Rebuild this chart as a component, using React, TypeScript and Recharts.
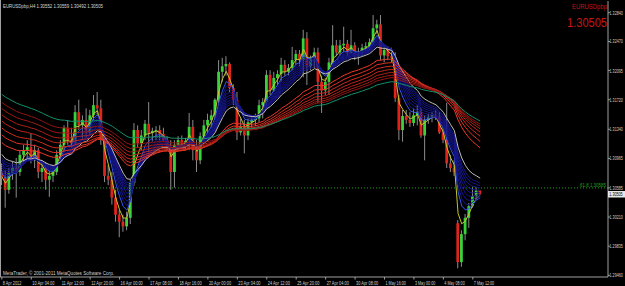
import React from "react";
import { ComposedChart, Bar, Line, XAxis, YAxis, ReferenceLine } from "recharts";

// EURUSD H4, 8 Apr 2012 .. 7 May 2012
const dateLabels = [
  "8 Apr 2012", "10 Apr 04:00", "11 Apr 12:00", "12 Apr 20:00", "16 Apr 00:00",
  "17 Apr 08:00", "18 Apr 16:00", "20 Apr 00:00", "23 Apr 04:00", "24 Apr 12:00",
  "25 Apr 20:00", "27 Apr 04:00", "30 Apr 08:00", "1 May 16:00", "3 May 00:00",
  "4 May 08:00", "7 May 12:00",
];

const opens = [
  1.3079, 1.3071, 1.3056, 1.3078, 1.3084, 1.3079, 1.3101, 1.3107, 1.3111, 1.3094,
  1.3107, 1.3079, 1.3084, 1.3069, 1.3074, 1.3079, 1.3101, 1.3114, 1.3136, 1.312,
  1.3116, 1.3156, 1.3139, 1.3146, 1.313, 1.3152, 1.3165, 1.3161, 1.312, 1.3074,
  1.3069, 1.3046, 1.3024, 1.3015, 1.3009, 1.302, 1.3065, 1.3133, 1.3116, 1.3126,
  1.3141, 1.3129, 1.3132, 1.3133, 1.3128, 1.312, 1.3111, 1.3079, 1.3114, 1.312,
  1.3115, 1.3119, 1.3137, 1.3107, 1.3094, 1.3125, 1.3139, 1.3146, 1.3152, 1.3172,
  1.3208, 1.3215, 1.3218, 1.3187, 1.3172, 1.313, 1.3138, 1.3126, 1.3143, 1.3146,
  1.3148, 1.3165, 1.3169, 1.3204, 1.3184, 1.32, 1.3205, 1.3217, 1.3208, 1.3213,
  1.3223, 1.3231, 1.3223, 1.3251, 1.3215, 1.3226, 1.3233, 1.3195, 1.3184, 1.3195,
  1.322, 1.3242, 1.3233, 1.3242, 1.3244, 1.3232, 1.3242, 1.3228, 1.3233, 1.3239,
  1.3241, 1.3246, 1.3264, 1.3269, 1.3229, 1.3236, 1.3228, 1.3226, 1.3174, 1.3133,
  1.3151, 1.3146, 1.3142, 1.3152, 1.3156, 1.3126, 1.3146, 1.315, 1.3152, 1.315,
  1.313, 1.312, 1.309, 1.3084, 1.3013, 1.2963, 1.2999, 1.302, 1.3035, 1.3048,
  1.30552,
];
const highs = [
  1.309, 1.3081, 1.3084, 1.3092, 1.3097, 1.3107, 1.3114, 1.312, 1.3129, 1.3114,
  1.311, 1.3094, 1.3092, 1.3081, 1.3088, 1.3107, 1.312, 1.3139, 1.3146, 1.3136,
  1.3165, 1.3172, 1.3152, 1.3161, 1.3159, 1.3178, 1.3182, 1.3172, 1.3126, 1.3088,
  1.3079, 1.3056, 1.303, 1.3024, 1.3028, 1.3069, 1.3142, 1.3139, 1.3133, 1.3146,
  1.3169, 1.3136, 1.3138, 1.3139, 1.3136, 1.3125, 1.312, 1.312, 1.3125, 1.3126,
  1.3123, 1.3155, 1.3146, 1.312, 1.313, 1.3146, 1.3154, 1.3159, 1.3174, 1.3223,
  1.3226, 1.3228, 1.322, 1.3192, 1.3182, 1.3148, 1.3146, 1.3148, 1.3152, 1.3154,
  1.3172, 1.3174, 1.321, 1.321, 1.3208, 1.321, 1.3226, 1.3223, 1.3218, 1.324,
  1.3236, 1.3236, 1.3262, 1.3259, 1.3229, 1.3239, 1.3239, 1.3203, 1.32, 1.3226,
  1.3268, 1.3249, 1.3249, 1.3266, 1.3249, 1.3262, 1.3246, 1.3239, 1.3244, 1.3246,
  1.3251, 1.3281, 1.3275, 1.3281, 1.3239, 1.3241, 1.3239, 1.3233, 1.3178, 1.3159,
  1.3159, 1.3156, 1.3161, 1.3165, 1.3161, 1.3152, 1.3154, 1.3156, 1.3159, 1.3156,
  1.3136, 1.3168, 1.3101, 1.3094, 1.3017, 1.3004, 1.3025, 1.3039, 1.306, 1.3059,
  1.30559,
];
const lows = [
  1.3062, 1.3033, 1.3051, 1.3069, 1.3046, 1.3074, 1.3092, 1.3097, 1.309, 1.3084,
  1.3071, 1.3066, 1.3056, 1.3047, 1.3066, 1.3075, 1.3094, 1.3105, 1.3114, 1.311,
  1.3112, 1.3133, 1.312, 1.3123, 1.3126, 1.3146, 1.3152, 1.3114, 1.3066, 1.3062,
  1.3037, 1.3015, 1.2995, 1.3002, 1.3004, 1.3012, 1.3061, 1.311, 1.3107, 1.312,
  1.3098, 1.3118, 1.312, 1.312, 1.3118, 1.3107, 1.3056, 1.3059, 1.3107, 1.311,
  1.3107, 1.3107, 1.3094, 1.3079, 1.3089, 1.312, 1.3128, 1.3136, 1.3146, 1.3168,
  1.3195, 1.3203, 1.3182, 1.3165, 1.312, 1.3126, 1.3103, 1.312, 1.3136, 1.3138,
  1.3143, 1.3148, 1.3161, 1.3178, 1.3182, 1.3191, 1.3195, 1.3203, 1.3203, 1.321,
  1.3217, 1.3215, 1.3201, 1.3191, 1.321, 1.3213, 1.3168, 1.3155, 1.3178, 1.3178,
  1.3218, 1.3228, 1.3229, 1.3233, 1.3228, 1.3231, 1.3223, 1.3217, 1.3228, 1.3233,
  1.3236, 1.3242, 1.3257, 1.3223, 1.322, 1.3223, 1.322, 1.3169, 1.312, 1.3118,
  1.3141, 1.3137, 1.3138, 1.3139, 1.3123, 1.3094, 1.3141, 1.3143, 1.3146, 1.3128,
  1.3116, 1.3084, 1.3079, 1.3074, 1.2955, 1.2957, 1.2991, 1.3007, 1.3033, 1.3043,
  1.30492,
];
const closes = [
  1.3071, 1.3056, 1.3078, 1.3084, 1.3079, 1.3101, 1.3107, 1.3111, 1.3094, 1.3107,
  1.3079, 1.3084, 1.3069, 1.3074, 1.3079, 1.3101, 1.3114, 1.3136, 1.312, 1.3116,
  1.3156, 1.3139, 1.3146, 1.313, 1.3152, 1.3165, 1.3161, 1.312, 1.3074, 1.3069,
  1.3046, 1.3024, 1.3015, 1.3009, 1.302, 1.3065, 1.3133, 1.3116, 1.3126, 1.3141,
  1.3129, 1.3132, 1.3133, 1.3128, 1.312, 1.3111, 1.3079, 1.3114, 1.312, 1.3115,
  1.3119, 1.3137, 1.3107, 1.3094, 1.3125, 1.3139, 1.3146, 1.3152, 1.3172, 1.3208,
  1.3215, 1.3218, 1.3187, 1.3172, 1.313, 1.3138, 1.3126, 1.3143, 1.3146, 1.3148,
  1.3165, 1.3169, 1.3204, 1.3184, 1.32, 1.3205, 1.3217, 1.3208, 1.3213, 1.3223,
  1.3231, 1.3223, 1.3251, 1.3215, 1.3226, 1.3233, 1.3195, 1.3184, 1.3195, 1.322,
  1.3242, 1.3233, 1.3242, 1.3244, 1.3232, 1.3242, 1.3228, 1.3233, 1.3239, 1.3241,
  1.3246, 1.3264, 1.3269, 1.3229, 1.3236, 1.3228, 1.3226, 1.3174, 1.3133, 1.3151,
  1.3146, 1.3142, 1.3152, 1.3156, 1.3126, 1.3146, 1.315, 1.3152, 1.315, 1.313,
  1.312, 1.309, 1.3084, 1.3079, 1.2963, 1.2999, 1.302, 1.3035, 1.3048, 1.3055,
  1.30505,
];

const priceTicks = [
  1.3284, 1.32655, 1.3247, 1.3228, 1.32095, 1.31905, 1.3172, 1.3153, 1.3134, 1.3115,
  1.30965, 1.30775, 1.30585, 1.304, 1.3021, 1.30025, 1.29835, 1.29645, 1.2946,
];

// moving average periods and their value just before the first bar
const maPeriods = [3, 5, 6, 7, 8, 9, 10, 11, 12, 13, 15, 30, 35, 40, 45, 50, 55, 60, 70];
const maStart = [
  1.3075, 1.3081, 1.3084, 1.3086, 1.3089, 1.3092, 1.3094, 1.3097, 1.3099, 1.3102,
  1.3106, 1.312, 1.313, 1.3139, 1.3148, 1.3156, 1.3164, 1.3172, 1.3182,
];

const fibLevel = 1.30585;
const lastPrice = 1.30505;

function ema(period: number, start: number) {
  const a = 2 / (period + 1);
  let v = start;
  return closes.map((c) => (v = a * c + (1 - a) * v));
}

const maValues = maPeriods.map((p, k) => ema(p, maStart[k]));

const rows = closes.map((c, i) => {
  const row: any = { i, o: opens[i], h: highs[i], l: lows[i], c };
  maPeriods.forEach((p, k) => (row["ma" + p] = maValues[k][i]));
  return row;
});

const redShades = ["#f0382a", "#e03224", "#d02c1f", "#c0261b", "#b02017", "#a01a13", "#901510"];

function maColor(p: number) {
  if (p === 3) return "#c4c430";
  if (p === 5) return "#3658f0";
  if (p < 15) return "#16168a";
  if (p === 15) return "#bdbdbd";
  if (p < 70) return redShades[(p - 30) / 5] || "#b02017";
  return "#14906a";
}

function Candle(props: any) {
  const { x, y, width, height, payload } = props;
  const { o, h, l, c } = payload;
  const cx = x + width / 2;
  const k = h > l ? height / (h - l) : 0;
  const top = y + (h - Math.max(o, c)) * k;
  const bot = y + (h - Math.min(o, c)) * k;
  const up = c >= o;
  return (
    <g>
      <line x1={cx} x2={cx} y1={y} y2={y + height} stroke="#8c8c8c" strokeWidth={1} />
      <rect
        x={cx - 1.4}
        y={top}
        width={2.8}
        height={Math.max(1, bot - top)}
        fill={up ? "#3ad23a" : "#e0231b"}
      />
    </g>
  );
}

const small = { fontFamily: "Liberation Sans, Arial, sans-serif", fontSize: 5.6 };

function DateTick(props: any) {
  const { x, payload } = props;
  const i = payload.value as number;
  if (i % 8 !== 0) return null;
  const label = dateLabels[i / 8];
  return (
    <g>
      <line x1={x} x2={x} y1={277} y2={279.5} stroke="#a0a0a0" />
      <text
        x={x + 1}
        y={284.6}
        fill="#d0d0d0"
        {...small}
        textLength={label.length * 1.85}
        lengthAdjust="spacingAndGlyphs"
      >
        {label}
      </text>
    </g>
  );
}

// narrow text: squeezed horizontally so it fits the thin price scale
function Narrow({ x, y, fill, children }: any) {
  return (
    <text transform={`translate(${x},${y}) scale(0.66,1)`} fill={fill} {...small}>
      {children}
    </text>
  );
}

function PriceTick(props: any) {
  const { x, y, payload } = props;
  return (
    <Narrow x={x - 0.5} y={y + 2} fill="#d0d0d0">
      {payload.value.toFixed(5)}
    </Narrow>
  );
}

export default function App() {
  return (
    <div style={{ position: "relative", width: 625, height: 286, background: "#000" }}>
      <style>{"body{margin:0;background:#000}"}</style>
      <ComposedChart
        width={625}
        height={286}
        data={rows}
        margin={{ top: 1, right: 0, bottom: 0, left: 0 }}
        barCategoryGap={0}
      >
        <XAxis
          dataKey="i"
          type="category"
          interval={0}
          height={9}
          padding={{ left: 0, right: 126 }}
          stroke="#a0a0a0"
          tickLine={false}
          tick={<DateTick />}
        />
        <YAxis
          orientation="right"
          width={17}
          domain={[1.29438, 1.32991]}
          ticks={priceTicks}
          stroke="#a0a0a0"
          tickSize={2}
          tickMargin={0}
          tick={<PriceTick />}
          allowDataOverflow
        />
        <ReferenceLine y={fibLevel} stroke="#1fa01f" strokeDasharray="1 2" />
        <Bar
          dataKey={(d: any) => [d.l, d.h]}
          shape={<Candle />}
          barSize={3}
          isAnimationActive={false}
        />
        {maPeriods.map((p) => (
          <Line
            key={p}
            dataKey={"ma" + p}
            stroke={maColor(p)}
            strokeWidth={1}
            dot={false}
            type="linear"
            isAnimationActive={false}
          />
        ))}
      </ComposedChart>
      <svg
        width={625}
        height={286}
        style={{ position: "absolute", left: 0, top: 0, pointerEvents: "none" }}
      >
        <line x1={0.5} x2={0.5} y1={0} y2={277} stroke="#a0a0a0" />
        <text x={3} y={7.5} fill="#d8d8d8" {...small} textLength={100} lengthAdjust="spacingAndGlyphs">
          EURUSDpbp,H4 1.30552 1.30559 1.30492 1.30505
        </text>
        <text
          x={607}
          y={8.6}
          textAnchor="end"
          fill="#c81414"
          fontFamily="Liberation Sans, Arial, sans-serif"
          fontSize={7}
          textLength={35}
          lengthAdjust="spacingAndGlyphs"
        >
          EURUSDpbp
        </text>
        <text
          x={607}
          y={27}
          textAnchor="end"
          fill="#c81414"
          fontFamily="Liberation Sans, Arial, sans-serif"
          fontSize={13}
          textLength={40}
          lengthAdjust="spacingAndGlyphs"
        >
          1.30505
        </text>
        <text
          x={606}
          y={187}
          textAnchor="end"
          fill="#22a022"
          {...small}
          fontSize={5}
          textLength={26}
          lengthAdjust="spacingAndGlyphs"
        >
          61.8  1.30585
        </text>
        <rect x={608} y={191} width={17} height={6.5} fill="#e8e8e8" />
        <Narrow x={609.3} y={196.3} fill="#000">
          {lastPrice.toFixed(5)}
        </Narrow>
        <text x={3} y={275} fill="#d0d0d0" {...small} textLength={111} lengthAdjust="spacingAndGlyphs">
          MetaTrader, © 2001-2011 MetaQuotes Software Corp.
        </text>
      </svg>
    </div>
  );
}
